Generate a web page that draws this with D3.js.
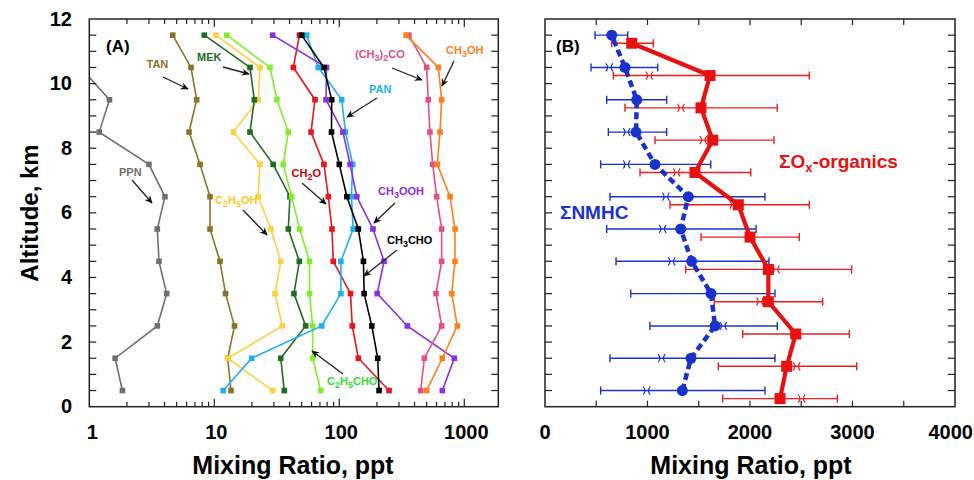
<!DOCTYPE html>
<html><head><meta charset="utf-8">
<script src="https://cdn.jsdelivr.net/npm/d3@7"></script>
<style>body{margin:0;background:#fff}svg{display:block}text{font-family:"Liberation Sans",Arial,Helvetica,sans-serif;font-weight:bold}</style>
</head><body><svg id="c" width="974" height="480"></svg>
<script>
// ---------------- DATA ----------------
const altitudes = [0.5,1.5,2.5,3.5,4.5,5.5,6.5,7.5,8.5,9.5,10.5,11.5];
const altitudesOx = [0.25,1.25,2.25,3.25,4.25,5.25,6.25,7.25,8.25,9.25,10.25,11.25];
const yTicks = [0,2,4,6,8,10,12];
const xTicksA = [1,10,100,1000];
const xTicksB = [0,1000,2000,3000,4000];

const PPN      = [1.84,1.61,3.5,4.16,3.61,3.5,4.03,3.0,1.20,1.45,0.85,0.7];
const TAN      = [13.6,12.8,14.5,12.3,11.1,9.24,9.24,7.69,6.28,7.23,6.51,4.65];
const MEK      = [36.3,34.0,53.8,43.4,47.9,39.1,40.3,29.6,19.3,20.9,19.3,8.32];
const C2H5OH   = [29.3,12.8,35.0,30.6,34.0,28.4,22.4,23.2,14.2,22.5,23.2,10.3];
const C2H5CHO  = [71.0,61.2,61.2,57.8,57.8,48.2,41.6,35.6,39.1,31.7,27.9,12.6];
const CH2O     = [250,142,127,123,89.5,87.4,81.7,75.4,59.4,63.9,42.9,48];
const PAN      = [11.8,19.9,72.3,103,103,129,125,128,112,104.5,67.9,54.8];
const CH3OOH   = [667,832,350,201,228,186,138,122,107,78.3,79,29.3];
const CH3CHO   = [208,203,182,158,156,142,115,100,86.6,86.9,75.4,50.0];
const ACETONE  = [448,479,659,594,659,659,601,559,531,515,500,360];
const CH3OH    = [500,667,879,793,843,843,769,608,639,659,620,342];

const NMHC_mean = [1340,1424,1659,1620,1431,1324,1398,1073,888,895,780,651];
const NMHC_lo   = [543,634,1024,836,693,602,634,543,618,602,449,488];
const NMHC_hi   = [2146,2244,2266,2244,2185,2059,2146,1617,1187,1187,1100,807];
const NMHC_med  = [992,1138,1740,1620,1236,1148,1180,797,797,895,628,651];

const OX_mean = [2293,2358,2446,2179,2179,2000,1886,1463,1636,1522,1610,846];
const OX_lo   = [1734,1691,1929,1652,1372,1522,1220,927,1073,780,667,651];
const OX_hi   = [2852,3041,2969,2709,2992,2481,2579,2007,2234,2266,2579,1057];
const OX_med  = [2504,2456,2446,2098,2254,2000,1837,1285,1545,1327,1018,846];

// ---------------- LAYOUT ----------------
const svg = d3.select("#c");
const yTop = 19, yBot = 406.7;
const y = d3.scaleLinear().domain([0,12]).range([yBot, yTop]);
const xA = d3.scaleLog().domain([1, 1871]).range([89.3, 498.3]);
const xB = d3.scaleLinear().domain([0, 4000]).range([545, 955]);

const defs = svg.append("defs");
defs.append("clipPath").attr("id","clipA").append("rect")
  .attr("x",89.3).attr("y",yTop).attr("width",409).attr("height",yBot-yTop);
defs.append("marker").attr("id","arr").attr("viewBox","0 0 10 10")
  .attr("refX",9).attr("refY",5).attr("markerWidth",8).attr("markerHeight",8)
  .attr("orient","auto").attr("markerUnits","userSpaceOnUse")
  .append("path").attr("d","M0,0.5 L10,5 L0,9.5 L3,5 z").attr("fill","#111");

// ---------- Panel A series ----------
const seriesA = [
  {v:PPN, c:"#707070"},
  {v:TAN, c:"#8a7428"},
  {v:C2H5OH, c:"#ffd040"},
  {v:MEK, c:"#226b22"},
  {v:C2H5CHO, c:"#80ee2a"},
  {v:CH2O, c:"#e8141e"},
  {v:PAN, c:"#1cb0f0"},
  {v:CH3OOH, c:"#8a30e6"},
  {v:CH3CHO, c:"#000000"},
  {v:ACETONE, c:"#e2507e"},
  {v:CH3OH, c:"#ff7f1e"}
];
const gA = svg.append("g").attr("clip-path","url(#clipA)");
const lineA = d3.line().x(d=>xA(d[0])).y(d=>y(d[1]));
seriesA.forEach(s=>{
  const pts = s.v.map((v,i)=>[v, altitudes[i]]);
  gA.append("path").attr("d", lineA(pts)).attr("fill","none")
    .attr("stroke", s.c).attr("stroke-width",1.6);
  gA.selectAll(null).data(pts).enter().append("rect")
    .attr("x",d=>xA(d[0])-2.8).attr("y",d=>y(d[1])-2.8)
    .attr("width",5.6).attr("height",5.6).attr("fill",s.c);
});

// ---------- Panel B ----------
const gB = svg.append("g");
function errBars(lo, hi, med, alts, col){
  alts.forEach((a,i)=>{
    const yy = y(a);
    gB.append("line").attr("x1",xB(lo[i])).attr("x2",xB(hi[i])).attr("y1",yy).attr("y2",yy)
      .attr("stroke",col).attr("stroke-width",1.4);
    [lo[i],hi[i]].forEach(v=>gB.append("line").attr("x1",xB(v)).attr("x2",xB(v))
      .attr("y1",yy-4).attr("y2",yy+4).attr("stroke",col).attr("stroke-width",1.4));
    const mx = xB(med[i]);
    gB.append("path").attr("d",`M${mx-3.5},${yy-4} Q${mx},${yy} ${mx-3.5},${yy+4} M${mx+3.5},${yy-4} Q${mx},${yy} ${mx+3.5},${yy+4}`)
      .attr("fill","none").attr("stroke",col).attr("stroke-width",1.2);
  });
}
errBars(NMHC_lo,NMHC_hi,NMHC_med,altitudes,"#1a32cc");
errBars(OX_lo,OX_hi,OX_med,altitudesOx,"#ee1c1c");

const lineB = d3.line().x(d=>xB(d[0])).y(d=>y(d[1]));
const oxPts = OX_mean.map((v,i)=>[v,altitudesOx[i]]);
const nmPts = NMHC_mean.map((v,i)=>[v,altitudes[i]]);
gB.append("path").attr("d", lineB(oxPts))
  .attr("fill","none").attr("stroke","#e81010").attr("stroke-width",4.2).attr("stroke-linejoin","round");
gB.selectAll(null).data(oxPts).enter().append("rect")
  .attr("x",d=>xB(d[0])-5.5).attr("y",d=>y(d[1])-5.5).attr("width",11).attr("height",11).attr("fill","#e81010");
gB.append("path").attr("d", lineB(nmPts))
  .attr("fill","none").attr("stroke","#1a32cc").attr("stroke-width",4.5).attr("stroke-dasharray","7,4");
gB.selectAll(null).data(nmPts).enter().append("circle")
  .attr("cx",d=>xB(d[0])).attr("cy",d=>y(d[1])).attr("r",5.5).attr("fill","#1a32cc");

// ---------- Axes / frames ----------
function frame(x0,x1){
  svg.append("rect").attr("x",x0).attr("y",yTop).attr("width",x1-x0).attr("height",yBot-yTop)
    .attr("fill","none").attr("stroke","#222").attr("stroke-width",1.5);
  d3.range(0.5,12,0.5).forEach(a=>{
    const L = 7;
    svg.append("line").attr("x1",x0).attr("x2",x0+L).attr("y1",y(a)).attr("y2",y(a)).attr("stroke","#222").attr("stroke-width",1.2);
    svg.append("line").attr("x1",x1).attr("x2",x1-L).attr("y1",y(a)).attr("y2",y(a)).attr("stroke","#222").attr("stroke-width",1.2);
  });
}
frame(89.3,498.3);
frame(545,955);

const logTicks = xA.ticks().filter(v=>v>1 && v<1871);
logTicks.forEach(v=>{
  const major = xTicksA.includes(v);
  const L = major ? 8 : 5;
  [[yBot,-1],[yTop,1]].forEach(([yy,dir])=>{
    svg.append("line").attr("x1",xA(v)).attr("x2",xA(v)).attr("y1",yy).attr("y2",yy+dir*L)
      .attr("stroke","#222").attr("stroke-width",1.2);
  });
});
d3.range(500,4000,500).forEach(v=>{
  [[yBot,-1],[yTop,1]].forEach(([yy,dir])=>{
    svg.append("line").attr("x1",xB(v)).attr("x2",xB(v)).attr("y1",yy).attr("y2",yy+dir*6)
      .attr("stroke","#222").attr("stroke-width",1.2);
  });
});

svg.selectAll(null).data(xTicksA).enter().append("text")
  .attr("x",d=>xA(d)+ (d===1?3:2)).attr("y",439).attr("text-anchor","middle")
  .attr("font-size",20).text(d=>d);
svg.selectAll(null).data(xTicksB).enter().append("text")
  .attr("x",d=>d===4000 ? 973 : xB(d)).attr("y",439)
  .attr("text-anchor",d=>d===4000?"end":"middle")
  .attr("font-size",20).text(d=>d);
svg.selectAll(null).data(yTicks).enter().append("text")
  .attr("x",72).attr("y",d=>y(d)+6.5).attr("text-anchor","end")
  .attr("font-size",20).text(d=>d);

svg.append("text").attr("x",293).attr("y",474).attr("text-anchor","middle").attr("font-size",25).text("Mixing Ratio, ppt");
svg.append("text").attr("x",751).attr("y",474).attr("text-anchor","middle").attr("font-size",25).text("Mixing Ratio, ppt");
svg.append("text").attr("transform","translate(38,213) rotate(-90)").attr("text-anchor","middle").attr("font-size",24).text("Altitude, km");

svg.append("text").attr("x",106).attr("y",52).attr("font-size",17).text("(A)");
svg.append("text").attr("x",556).attr("y",52).attr("font-size",17).text("(B)");

// ---------- Labels with arrows (panel A) ----------
const labels = [
  {parts:[["TAN"]], x:146.5, y:68, c:"#8a7428", a:[163,77,188,89]},
  {parts:[["MEK"]], x:197, y:61, c:"#226b22", a:[223,67,249,74]},
  {parts:[["PPN"]], x:119, y:176, c:"#707070", a:[132,180,152,203]},
  {parts:[["C"],["2",1],["H"],["5",1],["OH"]], x:215, y:204, c:"#ffc820", a:[243,210,267,235]},
  {parts:[["CH"],["2",1],["O"]], x:291.5, y:177, c:"#c80000", a:[302,183,326,204]},
  {parts:[["PAN"]], x:369, y:93, c:"#1cb0f0", a:[377,98,347,117]},
  {parts:[["(CH"],["3",1],[")"],["2",1],["CO"]], x:355, y:58, c:"#e2507e", a:[392,68,422,80]},
  {parts:[["CH"],["3",1],["OH"]], x:446, y:54, c:"#ff7f1e", a:[454,61,442,86]},
  {parts:[["CH"],["3",1],["OOH"]], x:378, y:195, c:"#8a30e6", a:[395,203,374,223]},
  {parts:[["CH"],["3",1],["CHO"]], x:387, y:244, c:"#000000", a:[397,250,364,276]},
  {parts:[["C"],["2",1],["H"],["5",1],["CHO"]], x:327, y:385, c:"#33dd33", a:[343,374,312,351]}
];
labels.forEach(l=>{
  const t = svg.append("text").attr("x",l.x).attr("y",l.y).attr("font-size",11).attr("fill",l.c);
  let shift = 0;
  l.parts.forEach(p=>{
    const ts = t.append("tspan").text(p[0]);
    if(p[1]){ ts.attr("font-size",9).attr("dy",3-shift); shift=3; }
    else { ts.attr("dy",-shift); shift=0; }
  });
  svg.append("line").attr("x1",l.a[0]).attr("y1",l.a[1]).attr("x2",l.a[2]).attr("y2",l.a[3])
    .attr("stroke","#222").attr("stroke-width",1.3).attr("marker-end","url(#arr)");
});

const tN = svg.append("text").attr("x",560).attr("y",219).attr("font-size",19).attr("fill","#1a32cc");
tN.append("tspan").text("\u03A3NMHC");
const tO = svg.append("text").attr("x",779).attr("y",168).attr("font-size",19).attr("fill","#e81010");
tO.append("tspan").text("\u03A3O");
tO.append("tspan").attr("font-size",13).attr("dy",4).text("x");
tO.append("tspan").attr("dy",-4).text("-organics");
</script></body></html>
